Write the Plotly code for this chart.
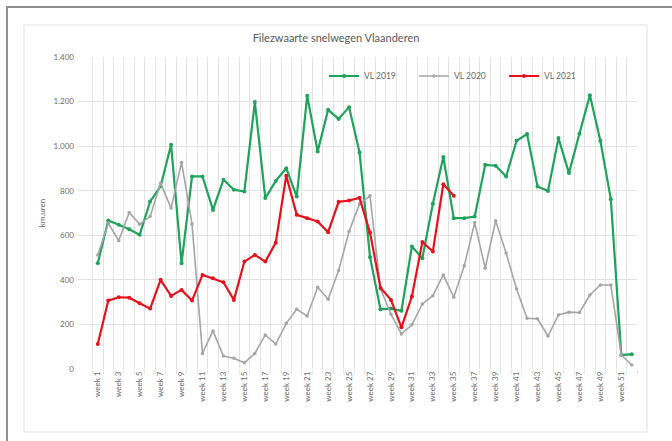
import plotly.graph_objects as go

weeks = list(range(1, 53))
week_labels = [f"week {w}" for w in weeks]

vl2019 = [475, 666, 647, 627, 602, 752, 820, 1006, 475, 864,
          864, 714, 849, 804, 797, 1198, 767, 844, 901, 774,
          1226, 976, 1163, 1122, 1175, 972, 502, 268, 271, 261,
          550, 497, 741, 951, 677, 677, 684, 916, 912, 864,
          1024, 1054, 819, 799, 1036, 879, 1056, 1228, 1024, 762,
          63, 66]
vl2020 = [512, 654, 576, 702, 650, 684, 834, 722, 927, 651,
          70, 171, 58, 48, 28, 70, 153, 112, 205, 268,
          238, 367, 313, 442, 617, 741, 777, 360, 246, 157,
          198, 292, 329, 422, 322, 463, 657, 452, 665, 520,
          359, 228, 225, 148, 243, 255, 253, 332, 377, 377,
          63, 18]
vl2021 = [112, 307, 322, 320, 295, 271, 400, 328, 355, 307,
          422, 407, 389, 310, 482, 512, 482, 567, 867, 692,
          677, 662, 614, 750, 756, 768, 612, 365, 310, 187,
          325, 570, 527, 829, 777]

y_ticks = [0, 200, 400, 600, 800, 1000, 1200, 1400]

W, H = 672, 441
L, R, T, B = 78, 35, 57, 72
PW = W - L - R
PH = H - T - B


def px(x):
    return (x - L) / PW


def py(y):
    return (H - B - y) / PH


FONT = "Lato, 'Open Sans', sans-serif"
GREEN = "#1fa35a"
GRAY = "#a5a5a5"
RED = "#e5121c"

fig = go.Figure()
fig.add_trace(go.Scatter(x=weeks, y=vl2019, name="VL 2019", mode="lines+markers",
                         line=dict(color=GREEN, width=2.2),
                         marker=dict(color=GREEN, size=4)))
fig.add_trace(go.Scatter(x=weeks, y=vl2020, name="VL 2020", mode="lines+markers",
                         line=dict(color=GRAY, width=1.6),
                         marker=dict(color=GRAY, size=3.5)))
fig.add_trace(go.Scatter(x=weeks[:len(vl2021)], y=vl2021, name="VL 2021", mode="lines+markers",
                         line=dict(color=RED, width=2.2),
                         marker=dict(color=RED, size=4)))

fig.update_layout(
    width=W, height=H,
    margin=dict(l=L, r=R, t=T, b=B, pad=0),
    paper_bgcolor="white", plot_bgcolor="white",
    separators=",.",
    font=dict(family=FONT, color="#6b6b6b", size=8),
    title=dict(text="Filezwaarte snelwegen Vlaanderen", x=0.5, xref="container",
               xanchor="center", y=1 - 38 / H, yref="container", yanchor="middle",
               font=dict(family=FONT, size=11, color="#595959")),
    showlegend=True,
    legend=dict(orientation="h", x=px(324), y=py(76), xanchor="left", yanchor="middle",
                bgcolor="rgba(0,0,0,0)", font=dict(size=8.5, color="#6b6b6b"),
                entrywidth=45, entrywidthmode="pixels", itemwidth=30,
                traceorder="normal"),
    shapes=[
        dict(type="rect", xref="paper", yref="paper", layer="between",
             x0=px(305), x1=px(637), y0=py(86), y1=py(66),
             fillcolor="white", line=dict(width=0)),
        dict(type="rect", xref="paper", yref="paper", layer="below",
             x0=px(24), x1=px(647), y0=py(432), y1=py(25),
             fillcolor="rgba(0,0,0,0)", line=dict(color="#e4e4e4", width=1.2)),
        dict(type="rect", xref="paper", yref="paper", layer="below",
             x0=px(7), x1=px(690), y0=py(460), y1=py(7),
             fillcolor="rgba(0,0,0,0)", line=dict(color="#8f8f8f", width=2)),
    ],
)

fig.update_xaxes(
    range=[-0.89, 52.5],
    tickmode="array", tickvals=weeks[::2], ticktext=week_labels[::2],
    tickangle=-90, showgrid=False, zeroline=False,
    showline=False, ticks="", ticklen=0,
    tickfont=dict(size=8, color="#6b6b6b"),
    minor=dict(tickvals=[w - 0.5 for w in weeks] + [52.5], showgrid=True,
               gridcolor="#e3e3e3", gridwidth=1, ticks="outside", ticklen=4,
               tickcolor="#e3e3e3"),
)
fig.update_yaxes(
    range=[0, 1400], tickmode="array", tickvals=y_ticks, tickformat=",d",
    showgrid=True, gridcolor="#e3e3e3", gridwidth=1, zeroline=False,
    showline=False, ticks="", ticklabelstandoff=3,
    tickfont=dict(size=8, color="#6b6b6b"),
    title=dict(text="km.uren", standoff=6, font=dict(size=8, color="#6b6b6b")),
)

fig.write_html("out.html", config={"displayModeBar": False},
               post_script="document.body.style.margin='0';document.body.style.overflow='hidden';")
